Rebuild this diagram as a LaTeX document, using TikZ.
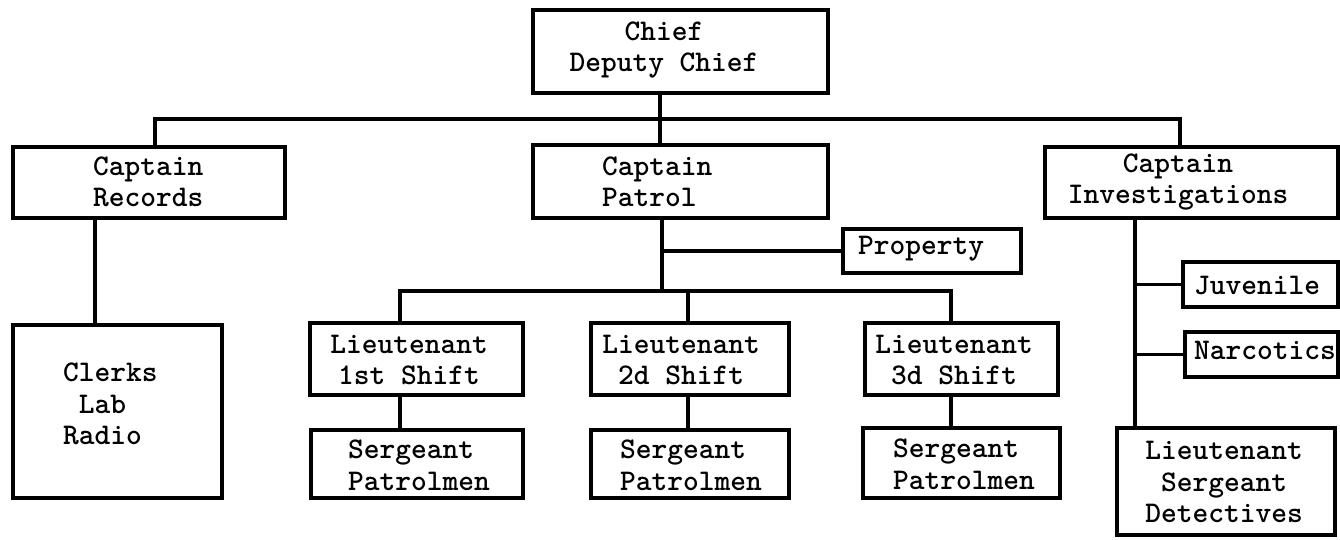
\documentclass[tikz,border=0pt]{standalone}
\usetikzlibrary{fit}
\begin{document}
\begin{tikzpicture}[x=1pt,y=-1pt,
  box/.style={draw=black,line width=3.2pt,inner sep=0pt,line join=miter},
  wire/.style={draw=black,line width=3.2pt},
  lbl/.style={inner sep=0pt,align=center,font=\fontsize{30}{31.5}\selectfont\ttfamily\bfseries},
  lbll/.style={lbl,align=left,anchor=west}]
\useasboundingbox (0,0) rectangle (1340,539);

% --- boxes ---
\node[box,fit={(533,10) (828,93)}]    (chief) {};
\node[box,fit={(13,147) (285,218)}]   (records) {};
\node[box,fit={(533,145) (828,218)}]  (patrol) {};
\node[box,fit={(1045,147) (1338,218)}] (invest) {};
\node[box,fit={(13,325) (222,498)}]   (clerks) {};
\node[box,fit={(843,229) (1021,273)}] (property) {};
\node[box,fit={(310,323) (523,395)}]  (lt1) {};
\node[box,fit={(591,323) (789,395)}]  (lt2) {};
\node[box,fit={(865,323) (1058,395)}] (lt3) {};
\node[box,fit={(311,430) (523,498)}]  (sg1) {};
\node[box,fit={(591,430) (789,498)}]  (sg2) {};
\node[box,fit={(863,428) (1060,498)}] (sg3) {};
\node[box,fit={(1183,262) (1338,307)}] (juv) {};
\node[box,fit={(1185,332) (1338,377)}] (narc) {};
\node[box,fit={(1117,428) (1335,535)}] (det) {};

% --- labels ---
\node[lbl]  (chiefT)  at (664,50)  {Chief\\Deputy Chief};
\node[lbll] (recT)    at (93,182)  {Captain\\Records};
\node[lbll] (patT)    at (602,182) {Captain\\Patrol};
\node[lbl]  (invT)    at (1178,182) {Captain\\Investigations};
\node[lbll] (clerksT) at (63,404)  {Clerks\\\phantom{C}Lab\\Radio};
\node[lbl]  (propT)   at (921,249) {Property};
\node[lbl]  (lt1T)    at (409,360) {Lieutenant\\1st Shift};
\node[lbl]  (lt2T)    at (681,360) {Lieutenant\\2d Shift};
\node[lbl]  (lt3T)    at (954,360) {Lieutenant\\3d Shift};
\node[lbll] (sg1T)    at (348,465) {Sergeant\\Patrolmen};
\node[lbll] (sg2T)    at (620,465) {Sergeant\\Patrolmen};
\node[lbll] (sg3T)    at (893,464) {Sergeant\\Patrolmen};
\node[lbl]  (juvT)    at (1257,285) {Juvenile};
\node[lbl]  (narcT)   at (1265,350) {Narcotics};
\node[lbl]  (detT)    at (1224,482) {Lieutenant\\Sergeant\\Detectives};

% --- tie points of the connectors ---
\coordinate (busL) at (155,119);
\coordinate (busM) at (660,119);
\coordinate (busR) at (1180,119);
\coordinate (recX) at (95,0);
\coordinate (patX) at (662,0);
\coordinate (invX) at (1135,0);
\coordinate (s1) at (400,291);
\coordinate (s2) at (688,291);
\coordinate (s3) at (951,291);

% --- connectors ---
\draw[wire] ([xshift=-1.6pt]busL) -- ([xshift=1.6pt]busR);
\draw[wire] (chief.south -| busM) -- (patrol.north -| busM);
\draw[wire] (busL) -- (records.north -| busL);
\draw[wire] (busR) -- (invest.north -| busR);
\draw[wire] (records.south -| recX) -- (clerks.north -| recX);

\draw[wire] (patrol.south -| patX) -- (s2 -| patX);
\draw[wire] (property.west -| patX) -- (property.west);
\draw[wire] ([xshift=-1.6pt]s1) -- ([xshift=1.6pt]s3);
\draw[wire] (s1) -- (lt1.north -| s1);
\draw[wire] (s2) -- (lt2.north -| s2);
\draw[wire] (s3) -- (lt3.north -| s3);
\draw[wire] (lt1.south -| s1) -- (sg1.north -| s1);
\draw[wire] (lt2.south -| s2) -- (sg2.north -| s2);
\draw[wire] (lt3.south -| s3) -- (sg3.north -| s3);

\draw[wire] (invest.south -| invX) -- (det.north -| invX);
\draw[wire] (juv.west -| invX) -- (juv.west);
\draw[wire] (narc.west -| invX) -- (narc.west);
\end{tikzpicture}
\end{document}
